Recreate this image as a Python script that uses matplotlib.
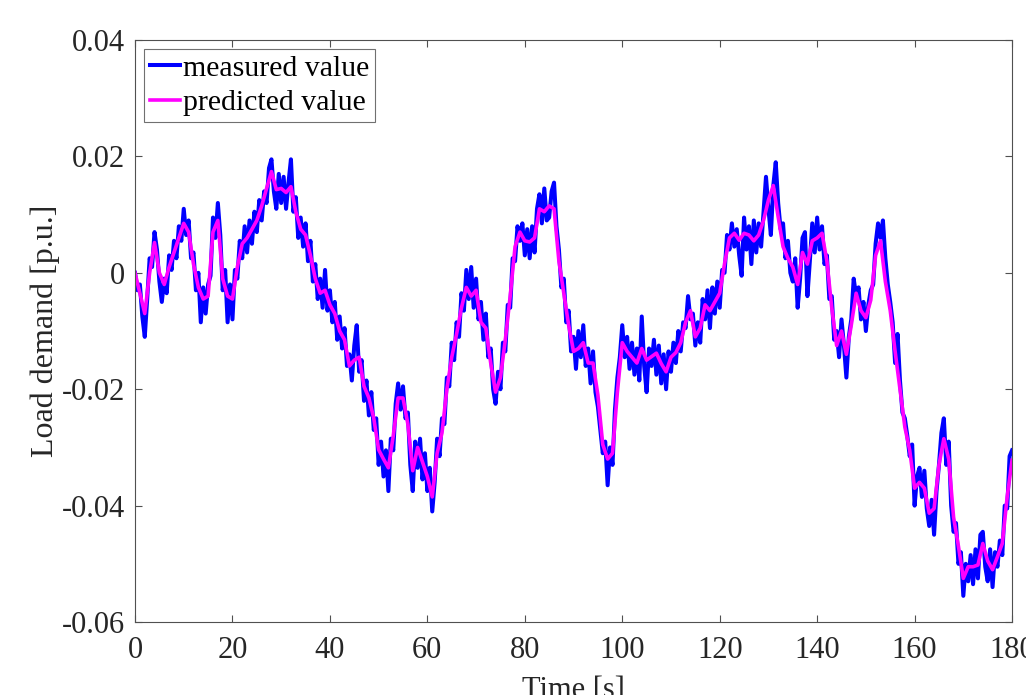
import numpy as np
import matplotlib
matplotlib.use('Agg')
import matplotlib.pyplot as plt

# load demand, in units of 1e-3 p.u.
# measured value, sampled every 0.5 s (0 .. 180 s)
measured_mpu = [
    0, -3.0, -2.0, -7.5, -11.0, -4.5, 2.5, 1.0, 7.0, 4.0,
    -1.5, -5.0, -1.0, -3.5, 3.0, 0.5, 5.5, 2.5, 8.0, 5.5,
    11.0, 6.5, 9.0, 2.5, 3.5, -3.0, 0.0, -8.5, -2.5, -7.0,
    -2.0, -0.5, 9.5, 6.0, 12.0, 6.5, -3.0, 0.5, -8.5, -2.0,
    -8.0, 0.5, -1.0, 5.5, 2.5, 8.0, 3.5, 9.0, 5.0, 10.5,
    7.0, 12.5, 9.0, 14.0, 12.0, 18.0, 19.5, 14.0, 11.0, 17.0,
    12.0, 16.5, 11.0, 15.5, 19.5, 10.5, 13.0, 6.0, 9.5, 4.5,
    8.5, 2.0, 5.5, -1.5, 1.5, -4.5, -1.0, -6.0, 0.5, -6.5,
    -3.0, -8.5, -5.0, -11.5, -7.5, -13.0, -9.5, -16.0, -14.0, -18.5,
    -12.5, -9.0, -17.0, -15.0, -22.0, -18.5, -24.5, -20.5, -27.0, -25.0,
    -33.0, -29.0, -35.0, -30.5, -37.5, -28.5, -30.5, -22.5, -19.0, -23.5,
    -19.5, -25.0, -24.0, -33.0, -37.5, -29.0, -33.5, -28.5, -35.5, -31.0,
    -37.5, -33.5, -41.0, -36.0, -28.5, -31.5, -25.0, -26.0, -18.0, -19.5,
    -12.0, -15.0, -8.5, -11.0, -3.5, -6.5, 0.5, -4.5, 1.0, -6.0,
    -1.0, -8.0, -5.0, -11.5, -7.0, -14.5, -13.0, -20.0, -22.5, -17.0,
    -20.0, -12.0, -13.5, -5.5, -6.0, 2.5, 2.0, 8.0, 5.5, 8.5,
    3.0, 7.5, 2.5, 8.0, 3.5, 11.0, 13.5, 8.5, 14.5, 9.0,
    9.5, 14.0, 15.5, 8.0, 4.0, -2.5, -1.0, -8.5, -6.5, -13.5,
    -11.0, -16.5, -10.0, -14.5, -9.0, -16.0, -13.0, -19.0, -13.5, -20.5,
    -23.0, -27.0, -31.0, -29.0, -36.5, -30.0, -33.0, -23.5, -18.0, -14.5,
    -9.0, -14.5, -11.0, -16.5, -12.0, -17.5, -13.0, -18.5, -7.5, -16.0,
    -20.5, -13.0, -16.0, -11.5, -17.5, -12.5, -19.0, -14.0, -20.0, -13.5,
    -17.0, -12.0, -15.5, -10.0, -13.5, -8.5, -9.5, -4.0, -8.0, -7.0,
    -12.5, -8.5, -12.0, -4.5, -8.0, -3.0, -9.5, -2.5, -7.0, -1.5,
    -6.0, 0.5, 0.0, 6.5, 4.0, 8.5, 4.5, 7.5, 3.0, -0.5,
    9.5, 4.0, 8.0, 1.5, 9.0, 3.5, 8.5, 4.5, 10.5, 16.5,
    11.0, 6.5, 15.0, 19.0, 12.0, 7.5, 8.5, 2.5, 5.5, 0.0,
    -1.5, 2.5, -6.0, -1.0, 6.0, 7.0, -4.0, 2.0, 8.5, 3.5,
    9.5, 4.0, 8.0, 1.5, 3.0, -4.5, -4.0, -11.5, -10.0, -14.5,
    -8.0, -12.5, -18.0, -11.0, -8.0, -1.0, -4.0, -2.5, -8.0, -5.0,
    -10.0, -5.5, -3.0, -2.0, 5.0, 8.5, 6.0, 9.0, 2.5, -2.0,
    -5.0, -8.5, -15.5, -10.5, -18.5, -24.0, -25.0, -28.0, -31.5, -29.5,
    -40.0, -35.0, -33.5, -38.5, -34.0, -40.5, -43.5, -39.0, -45.0, -37.5,
    -33.0, -27.5, -25.0, -33.0, -29.0, -40.0, -44.5, -43.0, -50.0, -48.0,
    -55.5, -50.0, -53.0, -48.5, -53.5, -47.5, -52.5, -45.0, -44.5, -50.5,
    -53.0, -47.5, -54.0, -48.0, -50.5, -46.0, -48.5, -40.0, -40.5, -31.5,
    -30.5,
]

# predicted value, one sample per second (0 .. 180 s)
predicted_mpu = [
    0, -3.5, -7, 0, 5.2, 0, -2, 1, 3.5, 6,
    8.5, 7, 1.5, -2.5, -4.5, -4, 7, 9, -1, -4,
    -4.5, 1, 5, 6, 7.5, 9, 11.5, 14.5, 17.4, 14.3,
    14.5, 13.8, 14.8, 10.5, 7.5, 6.5, 3, -1, -3.5, -3,
    -5.5, -7, -10, -11.5, -16, -15, -14.5, -19.5, -21.5, -25,
    -30.4, -32, -33.5, -28, -21.5, -21.5, -26, -34, -30, -32.5,
    -35, -38.5, -31, -27.5, -20, -14.5, -10.5, -6, -2.5, -4,
    -3, -8.5, -9.5, -15.5, -20.5, -18, -11.5, -4, 4.5, 7,
    5.5, 5.3, 6, 11, 10.5, 11.5, 11, 2, -3.5, -9,
    -13.5, -13, -12, -15.5, -15.5, -21, -29.5, -32, -31, -20.5,
    -12, -13.5, -14.5, -15.5, -13, -15, -14.4, -13.8, -15.6, -17,
    -14.5, -13.7, -12, -8.5, -6.5, -11, -9.5, -5.5, -6.5, -5,
    -3.5, 1.6, 6, 6.8, 5.6, 6.8, 6.5, 5.5, 6.5, 9,
    12.5, 15, 9.6, 4.5, 2.5, 1, -2, 3.5, 1.5, 5.5,
    6, 6.8, 2, -6, -12.5, -10, -14, -9, -3.5, -6.5,
    -7.7, -4.7, 3, 5.5, -1.5, -6.5, -13.5, -20, -26.5, -30.5,
    -37, -36, -37, -41.3, -40.5, -33, -28.5, -32, -42, -47,
    -52.5, -50.5, -50.5, -50.2, -46.5, -49.5, -51, -48.8, -46.5, -38.5,
    -32.2,
]

y_ticks = [-0.06, -0.04, -0.02, 0, 0.02, 0.04]
y_tick_labels = ['-0.06', '-0.04', '-0.02', '0', '0.02', '0.04']
x_ticks = [0, 20, 40, 60, 80, 100, 120, 140, 160, 180]

t_meas = np.arange(len(measured_mpu)) * 0.5
t_pred = np.arange(len(predicted_mpu)) * 1.0
measured = np.array(measured_mpu) / 1000
predicted = np.array(predicted_mpu) / 1000

plt.rcParams['font.family'] = ['Liberation Serif', 'DejaVu Serif']

fig = plt.figure(figsize=(10.26, 6.95), dpi=100)
ax = fig.add_axes([0.1316, 0.105, 0.8548, 0.8374])

ax.plot(t_meas, measured, color='#0000ff', linewidth=2.9, label='measured value')
ax.plot(t_pred, predicted, color='#ff00ff', linewidth=2.6, label='predicted value')

ax.set_xlim(0, 180)
ax.set_ylim(-0.06, 0.04)
ax.set_xticks(x_ticks)
ax.set_yticks(y_ticks)
ax.set_yticklabels(y_tick_labels)

for s in ax.spines.values():
    s.set_color('#505050')
    s.set_linewidth(0.8)
ax.tick_params(direction='in', length=5, width=0.8, color='#505050',
               top=True, right=True, labelsize=22, labelcolor='#262626')
ax.tick_params(axis='x', pad=10)
ax.tick_params(axis='y', pad=7)

ax.set_xlabel('Time [s]', fontsize=22, color='#262626', labelpad=8)
ax.set_ylabel('Load demand [p.u.]', fontsize=23, color='#262626')
ax.yaxis.set_label_coords(-0.085, 0.5)

leg = ax.legend(loc='upper left', fontsize=21.5, frameon=True, fancybox=False,
                edgecolor='#707070', framealpha=1, borderpad=0.2,
                handlelength=1.0, handletextpad=0.1, labelspacing=0.25,
                borderaxespad=0.3)
leg.get_frame().set_linewidth(0.8)

fig.savefig('out.png', dpi=100)
